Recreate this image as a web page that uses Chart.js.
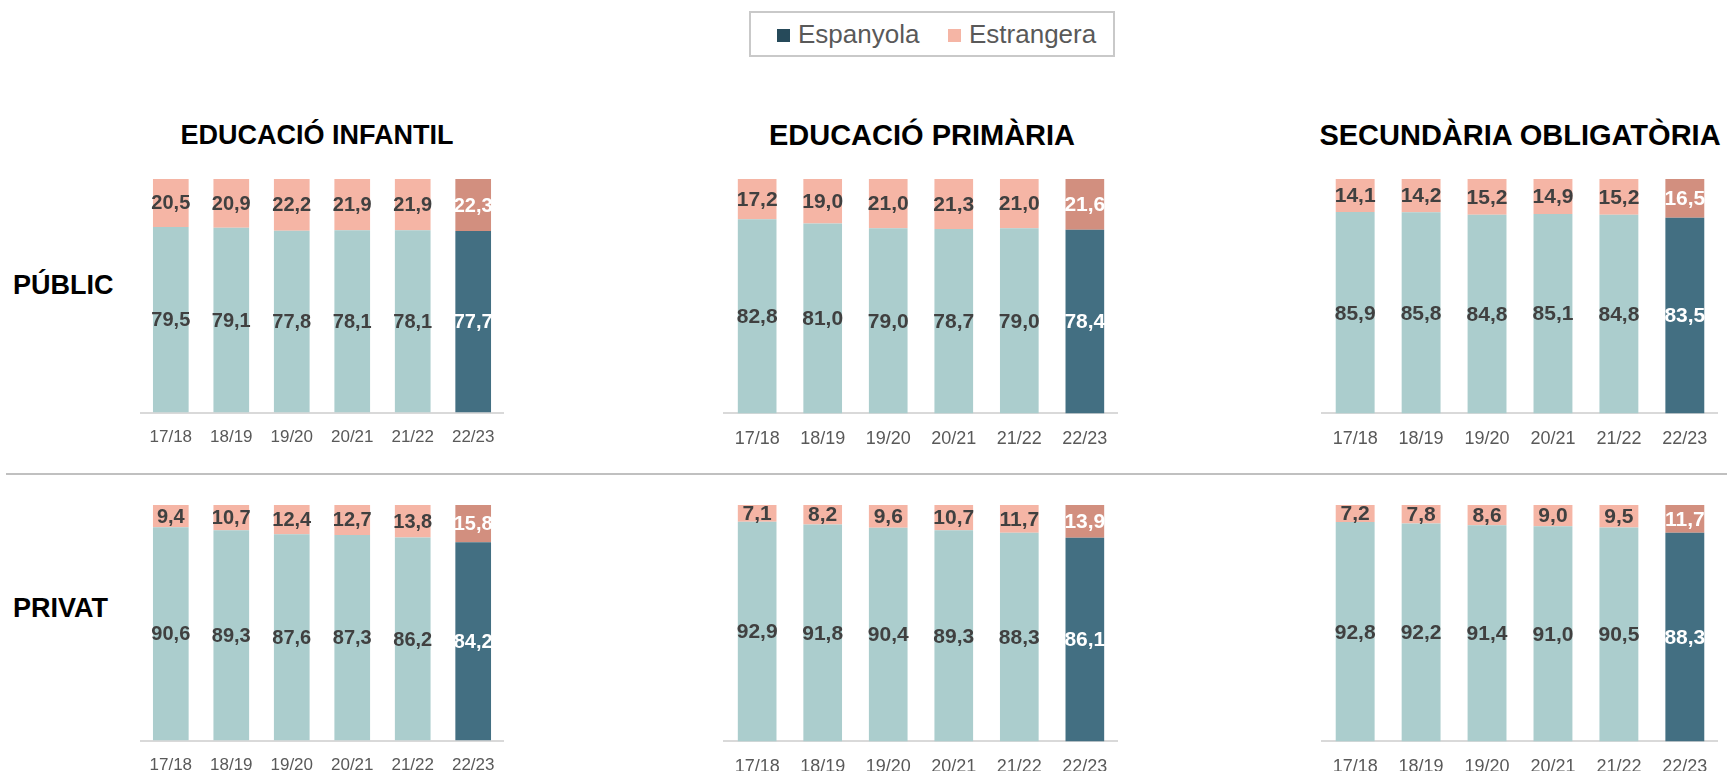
<!DOCTYPE html>
<html>
<head>
<meta charset="utf-8">
<script src="https://cdn.jsdelivr.net/npm/chart.js@4.4.0/dist/chart.umd.min.js"></script>
<style>
    body { margin: 0; width: 1727px; height: 771px; overflow: hidden; background: #fff; font-family: "Liberation Sans", Arial, sans-serif; position: relative; }
    canvas { position: absolute; }
    .title { position: absolute; font-weight: bold; color: #000; white-space: nowrap; transform: translate(-50%, -50%); }
    .rowlabel { position: absolute; left: 13px; font-size: 27px; font-weight: bold; color: #000; transform: translateY(-50%); }
    #legend { position: absolute; left: 749px; top: 11px; width: 362px; height: 42px; border: 2px solid #c9c9c9; }
    .item { position: absolute; top: 0; height: 42px; line-height: 42px; font-size: 26px; color: #595959; }
    .item span { display: inline-block; width: 13px; height: 13px; margin-right: 8px; vertical-align: 1px; }
    #sep { position: absolute; left: 6px; top: 473px; width: 1721px; height: 2px; background: #c0c0c0; }
</style>
</head>
<body>
<div id="legend">
    <div class="item" style="left: 26px"><span style="background:#264a5a"></span>Espanyola</div>
    <div class="item" style="left: 197px"><span style="background:#f5b5a5"></span>Estrangera</div>
</div>

<div class="title" style="left: 317px; top: 135px; font-size: 27px">EDUCACIÓ INFANTIL</div>
<div class="title" style="left: 922px; top: 135px; font-size: 29px">EDUCACIÓ PRIMÀRIA</div>
<div class="title" style="left: 1520px; top: 135px; font-size: 29px">SECUNDÀRIA OBLIGATÒRIA</div>

<div class="rowlabel" style="top: 285px">PÚBLIC</div>
<div class="rowlabel" style="top: 608px">PRIVAT</div>
<div id="sep"></div>

<canvas id="infPub" width="400" height="300"></canvas>
<canvas id="priPub" width="400" height="300"></canvas>
<canvas id="secPub" width="400" height="300"></canvas>
<canvas id="infPri" width="400" height="300"></canvas>
<canvas id="priPri" width="400" height="300"></canvas>
<canvas id="secPri" width="400" height="300"></canvas>

<script>
const years = ['17/18', '18/19', '19/20', '20/21', '21/22', '22/23'];

// % alumnat per nacionalitat
const infantilPublicEsp = [79.5, 79.1, 77.8, 78.1, 78.1, 77.7];
const infantilPublicEstr = [20.5, 20.9, 22.2, 21.9, 21.9, 22.3];
const primariaPublicEsp = [82.8, 81.0, 79.0, 78.7, 79.0, 78.4];
const primariaPublicEstr = [17.2, 19.0, 21.0, 21.3, 21.0, 21.6];
const secundariaPublicEsp = [85.9, 85.8, 84.8, 85.1, 84.8, 83.5];
const secundariaPublicEstr = [14.1, 14.2, 15.2, 14.9, 15.2, 16.5];

const infantilPrivatEsp = [90.6, 89.3, 87.6, 87.3, 86.2, 84.2];
const infantilPrivatEstr = [9.4, 10.7, 12.4, 12.7, 13.8, 15.8];
const primariaPrivatEsp = [92.9, 91.8, 90.4, 89.3, 88.3, 86.1];
const primariaPrivatEstr = [7.1, 8.2, 9.6, 10.7, 11.7, 13.9];
const secundariaPrivatEsp = [92.8, 92.2, 91.4, 91.0, 90.5, 88.3];
const secundariaPrivatEstr = [7.2, 7.8, 8.6, 9.0, 9.5, 11.7];

const FONT = '"Liberation Sans", Arial, sans-serif';
const lastIdx = years.length - 1;

// plot areas on the page: [left, right] per column, [top, bottom] per row
const cols = [[138, 506], [725, 1118], [1323, 1718]];
const rows = [[179, 413], [505, 741]];

// values written in the middle of each segment
const valueLabels = {
    id: 'valueLabels',
    afterDatasetsDraw(chart) {
        const ctx = chart.ctx;
        const size = chart.options.plugins.valueLabels.size;
        ctx.save();
        ctx.font = 'bold ' + size + 'px ' + FONT;
        ctx.textAlign = 'center';
        ctx.textBaseline = 'middle';
        chart.data.datasets.forEach((ds, di) => {
            chart.getDatasetMeta(di).data.forEach((bar, i) => {
                const p = bar.getProps(['x', 'y', 'base'], true);
                ctx.fillStyle = i === lastIdx ? '#ffffff' : '#404040';
                ctx.fillText(ds.data[i].toFixed(1).replace('.', ','), p.x, (p.y + p.base) / 2 + 1);
            });
        });
        ctx.restore();
    }
};

function config(esp, estr, tickSize, labelSize) {
    return {
        type: 'bar',
        data: {
            labels: years,
            datasets: [{
                label: 'Espanyola',
                data: esp,
                backgroundColor: years.map((y, i) => i === lastIdx ? '#436f82' : '#abcdcd'),
                borderWidth: 0
            }, {
                label: 'Estrangera',
                data: estr,
                backgroundColor: years.map((y, i) => i === lastIdx ? '#d28f7f' : '#f5b5a5'),
                borderWidth: 0
            }]
        },
        options: {
            responsive: false,
            maintainAspectRatio: false,
            animation: false,
            layout: { padding: 0 },
            datasets: { bar: { barPercentage: 0.59, categoryPercentage: 1 } },
            plugins: {
                legend: { display: false },
                tooltip: { enabled: false },
                valueLabels: { size: labelSize }
            },
            scales: {
                x: {
                    stacked: true,
                    grid: { display: false, drawTicks: false },
                    border: { color: '#d9d9d9', width: 2 },
                    ticks: { color: '#595959', padding: 15, font: { family: FONT, size: tickSize } }
                },
                y: { stacked: true, display: false, min: 0, max: 100 }
            }
        },
        plugins: [valueLabels]
    };
}

// draw once to measure the padding around the plot area, then redraw so
// the plot area lands on the wanted rectangle
function makeChart(id, col, row, esp, estr, tickSize, labelSize) {
    const canvas = document.getElementById(id);
    let chart = new Chart(canvas, config(esp, estr, tickSize, labelSize));
    const ca = chart.chartArea;
    const padL = ca.left, padT = ca.top;
    const padR = chart.width - ca.right, padB = chart.height - ca.bottom;
    chart.destroy();
    canvas.width = Math.round(cols[col][1] - cols[col][0] + padL + padR);
    canvas.height = Math.round(rows[row][1] - rows[row][0] + padT + padB);
    canvas.style.left = (cols[col][0] - padL) + 'px';
    canvas.style.top = (rows[row][0] - padT) + 'px';
    new Chart(canvas, config(esp, estr, tickSize, labelSize));
}

makeChart('infPub', 0, 0, infantilPublicEsp, infantilPublicEstr, 17, 20);
makeChart('priPub', 1, 0, primariaPublicEsp, primariaPublicEstr, 18, 21);
makeChart('secPub', 2, 0, secundariaPublicEsp, secundariaPublicEstr, 18, 21);
makeChart('infPri', 0, 1, infantilPrivatEsp, infantilPrivatEstr, 17, 20);
makeChart('priPri', 1, 1, primariaPrivatEsp, primariaPrivatEstr, 18, 21);
makeChart('secPri', 2, 1, secundariaPrivatEsp, secundariaPrivatEstr, 18, 21);
</script>
</body>
</html>
